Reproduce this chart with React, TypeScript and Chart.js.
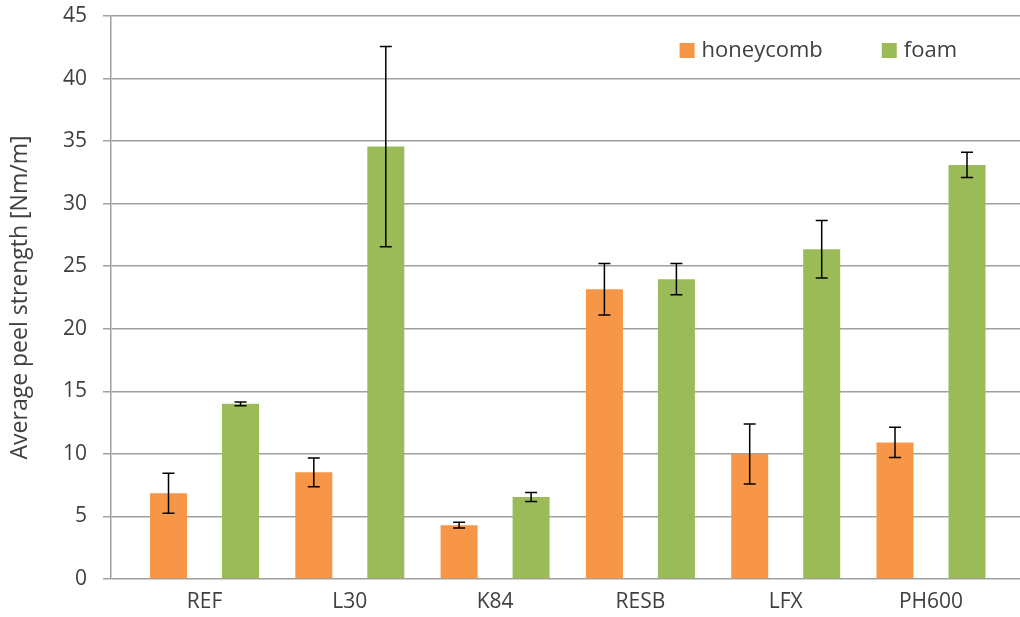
import React, { useEffect, useRef } from 'react';
import { Chart, registerables } from 'chart.js';

Chart.register(...registerables);

const categories = ['REF', 'L30', 'K84', 'RESB', 'LFX', 'PH600'];
const seriesLabels = ['honeycomb', 'foam'];
const honeycombValues = [6.85, 8.53, 4.3, 23.16, 9.99, 10.92];
const honeycombErrors = [1.6, 1.15, 0.23, 2.05, 2.4, 1.2];
const foamValues = [14.0, 34.56, 6.55, 23.96, 26.35, 33.1];
const foamErrors = [0.15, 8.0, 0.36, 1.25, 2.3, 1.0];
const seriesColors = ['#F79646', '#9BBB59'];
const yMin = 0;
const yMax = 45;
const yStep = 5;
const yTitle = 'Average peel strength [Nm/m]';

const TEXT = '#404040';
const FONT = 'Open Sans';

const errorBarPlugin = {
  id: 'errorBars',
  afterDatasetsDraw(chart: any) {
    const ctx = chart.ctx;
    const yScale = chart.scales.y;
    chart.data.datasets.forEach((ds: any, di: number) => {
      const meta = chart.getDatasetMeta(di);
      const errs: number[] = ds.errors || [];
      meta.data.forEach((el: any, i: number) => {
        const v = ds.data[i].y;
        const e = errs[i];
        if (e == null) return;
        const x = el.x;
        const yTop = yScale.getPixelForValue(v + e);
        const yBot = yScale.getPixelForValue(v - e);
        ctx.save();
        ctx.strokeStyle = '#000000';
        ctx.lineWidth = 1.5;
        ctx.beginPath();
        ctx.moveTo(x, yTop);
        ctx.lineTo(x, yBot);
        ctx.moveTo(x - 6, yTop);
        ctx.lineTo(x + 6, yTop);
        ctx.moveTo(x - 6, yBot);
        ctx.lineTo(x + 6, yBot);
        ctx.stroke();
        ctx.restore();
      });
    });
  },
};

const insideLegendPlugin = {
  id: 'insideLegend',
  afterDraw(chart: any) {
    const ctx = chart.ctx;
    const area = chart.chartArea;
    const box = 15;
    const gap = 7;
    const itemGap = 59;
    ctx.save();
    ctx.font = `22px "${FONT}"`;
    ctx.textBaseline = 'middle';
    ctx.textAlign = 'left';
    const items = chart.data.datasets.map((ds: any) => ({
      label: ds.label,
      color: ds.backgroundColor,
      w: ctx.measureText(ds.label).width,
    }));
    let total = 0;
    items.forEach((it: any, i: number) => {
      total += box + gap + it.w + (i < items.length - 1 ? itemGap : 0);
    });
    let x = area.right - 63 - total;
    const cy = area.top + 34.5;
    items.forEach((it: any) => {
      ctx.fillStyle = it.color;
      ctx.fillRect(x, cy - box / 2, box, box);
      x += box + gap;
      ctx.fillStyle = TEXT;
      ctx.fillText(it.label, x, cy);
      x += it.w + itemGap;
    });
    ctx.restore();
  },
};

export default function App() {
  const canvasRef = useRef<HTMLCanvasElement | null>(null);

  useEffect(() => {
    if (!canvasRef.current) return;
    const toPoints = (vals: number[]) => vals.map((v, i) => ({ x: i, y: v }));
    const chart = new Chart(canvasRef.current, {
      type: 'bar',
      data: {
        datasets: [
          {
            label: seriesLabels[0],
            data: toPoints(honeycombValues),
            errors: honeycombErrors,
            backgroundColor: seriesColors[0],
            categoryPercentage: 0.991,
            barPercentage: 0.514,
          } as any,
          {
            label: seriesLabels[1],
            data: toPoints(foamValues),
            errors: foamErrors,
            backgroundColor: seriesColors[1],
            categoryPercentage: 0.991,
            barPercentage: 0.514,
          } as any,
        ],
      },
      options: {
        animation: false,
        responsive: true,
        maintainAspectRatio: false,
        layout: { padding: { top: 16, right: 0, bottom: 0, left: 0 } },
        plugins: {
          legend: { display: false },
          tooltip: { enabled: false },
        },
        scales: {
          x: {
            type: 'linear',
            offset: false,
            min: -0.6435,
            max: 5.6125,
            grid: { display: false, offset: false },
            border: { display: false },
            afterBuildTicks: (scale: any) => {
              scale.ticks = categories.map((_, i) => ({ value: i }));
            },
            afterFit: (scale: any) => {
              scale.height = 38;
            },
            ticks: {
              autoSkip: false,
              maxRotation: 0,
              padding: 2,
              color: TEXT,
              font: { family: FONT, size: 21 },
              callback: (value: any) => categories[value as number] ?? '',
            },
          },
          y: {
            min: yMin,
            max: yMax,
            grid: {
              color: '#A0A0A0',
              lineWidth: 1.5,
              tickLength: 8,
              drawTicks: true,
            },
            border: { display: true, color: '#A0A0A0', width: 1.5 },
            afterFit: (scale: any) => {
              scale.width = 111;
              scale.paddingTop = 0;
              scale.paddingBottom = 0;
            },
            ticks: {
              stepSize: yStep,
              padding: 16,
              color: TEXT,
              font: { family: FONT, size: 21 },
            },
            title: {
              display: true,
              text: yTitle,
              color: TEXT,
              font: { family: FONT, size: 23, weight: 'normal' },
              padding: { top: 7, bottom: 0 },
            },
          },
        },
      } as any,
      plugins: [errorBarPlugin, insideLegendPlugin],
    });
    return () => chart.destroy();
  }, []);

  return (
    <div style={{ position: 'fixed', left: 0, top: 0, width: 1020, height: 617, background: '#ffffff' }}>
      <canvas ref={canvasRef} />
    </div>
  );
}
